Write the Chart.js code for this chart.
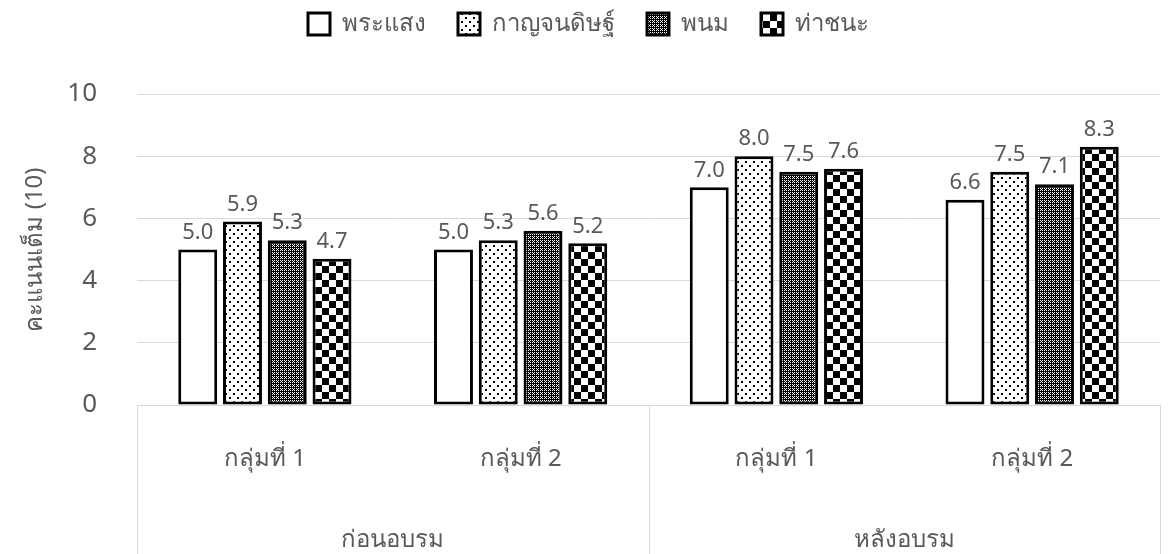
<!DOCTYPE html>
<html>
<head>
<meta charset="utf-8">
<script src="https://cdn.jsdelivr.net/npm/chart.js@4"></script>
<style>
html,body{margin:0;padding:0;background:#fff;}
#wrap{width:1172px;height:554px;position:relative;}
</style>
</head>
<body>
<div id="wrap"><canvas id="c"></canvas></div>
<script>
const categories = ["กลุ่มที่ 1", "กลุ่มที่ 2", "กลุ่มที่ 1", "กลุ่มที่ 2"];
const groups = ["ก่อนอบรม", "หลังอบรม"];
const seriesNames = ["พระแสง", "กาญจนดิษฐ์", "พนม", "ท่าชนะ"];
const phraSaeng = [5.0, 5.0, 7.0, 6.6];
const kanchanadit = [5.9, 5.3, 8.0, 7.5];
const phanom = [5.3, 5.6, 7.5, 7.1];
const thaChana = [4.7, 5.2, 7.6, 8.3];
const yTicks = [0, 2, 4, 6, 8, 10];

const FONT = "'Noto Sans', sans-serif";
const GRAY = "#595959";

function makePattern(size, draw) {
  const c = document.createElement("canvas");
  c.width = size; c.height = size;
  const g = c.getContext("2d");
  g.fillStyle = "#fff"; g.fillRect(0, 0, size, size);
  g.fillStyle = "#000";
  draw(g);
  return c.getContext("2d").createPattern(c, "repeat");
}
const patWhite = "#ffffff";
const patDots = makePattern(8, g => { g.fillRect(1, 1, 2, 2); g.fillRect(5, 5, 2, 2); });
const patDense = makePattern(4, g => {
  g.fillRect(0, 0, 4, 4);
  g.fillStyle = "#fff";
  g.fillRect(0, 0, 1, 1); g.fillRect(2, 2, 1, 1); g.fillRect(2, 0, 1, 1); g.fillRect(0, 2, 1, 1);
  g.fillRect(1, 1, 1, 1);
});
const patChecker = makePattern(14, g => { g.fillRect(0, 0, 7, 7); g.fillRect(7, 7, 7, 7); });

const fills = [patWhite, patDots, patDense, patChecker];
const seriesData = [phraSaeng, kanchanadit, phanom, thaChana];

const valueLabels = {
  id: "valueLabels",
  afterDatasetsDraw(chart) {
    const ctx = chart.ctx;
    ctx.save();
    ctx.font = "22px " + FONT;
    ctx.fillStyle = GRAY;
    ctx.textAlign = "center";
    ctx.textBaseline = "bottom";
    chart.data.datasets.forEach((ds, di) => {
      const meta = chart.getDatasetMeta(di);
      meta.data.forEach((bar, i) => {
        ctx.fillText(ds.data[i].toFixed(1), bar.x, bar.y - 6);
      });
    });
    ctx.restore();
  }
};

const separators = {
  id: "separators",
  afterDraw(chart) {
    const x = chart.scales.x;
    const ctx = chart.ctx;
    const n = categories.length;
    const half = (x.getPixelForValue(1) - x.getPixelForValue(0)) / 2;
    const positions = [x.getPixelForValue(0) - half, x.getPixelForValue(1) + half, x.getPixelForValue(n - 1) + half];
    ctx.save();
    ctx.strokeStyle = "#d9d9d9";
    ctx.lineWidth = 1;
    positions.forEach(p => {
      ctx.beginPath();
      ctx.moveTo(Math.round(p) + 0.5, chart.chartArea.bottom);
      ctx.lineTo(Math.round(p) + 0.5, chart.height);
      ctx.stroke();
    });
    ctx.restore();
  }
};

const legendSpace = {
  id: "legendSpace",
  beforeInit(chart) {
    const origFit = chart.legend.fit;
    chart.legend.fit = function () {
      origFit.bind(chart.legend)();
      this.height += 48;
    };
  }
};

new Chart(document.getElementById("c"), {
  type: "bar",
  data: {
    labels: categories,
    datasets: seriesNames.map((name, i) => ({
      label: name,
      data: seriesData[i],
      backgroundColor: fills[i],
      borderColor: "#000",
      borderWidth: 3,
      borderSkipped: false,
      categoryPercentage: 0.70,
      barPercentage: 0.87,
      xAxisID: "x"
    }))
  },
  options: {
    responsive: true,
    maintainAspectRatio: false,
    animation: false,
    devicePixelRatio: 1,
    layout: { padding: { left: 17, right: 12, top: -20, bottom: 0 } },
    plugins: {
      legend: {
        position: "top",
        labels: {
          font: { size: 24, family: FONT },
          color: GRAY,
          boxWidth: 22,
          boxHeight: 22,
          padding: 32
        }
      },
      tooltip: { enabled: false }
    },
    scales: {
      x: {
        type: "category",
        position: "bottom",
        offset: true,
        grid: { display: false },
        border: { display: true, color: "#d9d9d9" },
        ticks: { font: { size: 24, family: FONT }, color: GRAY, padding: 32 },
        afterFit(scale) { scale.height = 76; }
      },
      x2: {
        type: "category",
        labels: groups,
        position: "bottom",
        offset: true,
        grid: { display: false },
        border: { display: false },
        ticks: { font: { size: 24, family: FONT }, color: GRAY, padding: 37 },
        afterFit(scale) { scale.height = 73; }
      },
      y: {
        min: 0,
        max: 10,
        afterBuildTicks(scale) { scale.ticks = yTicks.map(v => ({ value: v })); },
        grid: { color: "#d9d9d9", drawTicks: false },
        border: { display: false },
        ticks: { font: { size: 26, family: FONT }, color: GRAY, padding: 40 },
        title: { display: true, text: "คะแนนเต็ม (10)", font: { size: 24, family: FONT }, color: GRAY, padding: { bottom: 0 } },
        afterFit(scale) { scale.width = 120; }
      }
    }
  },
  plugins: [valueLabels, separators, legendSpace]
});
</script>
</body>
</html>
